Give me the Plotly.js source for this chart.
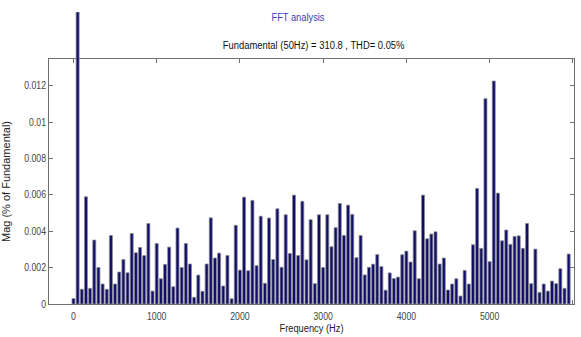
<!DOCTYPE html>
<html>
<head>
<meta charset="utf-8">
<script src="https://cdn.plot.ly/plotly-3.0.1.min.js"></script>
<style>html,body{margin:0;padding:0;background:#fff;}#chart{width:581px;height:337px;}</style>
</head>
<body>
<div id="chart"></div>
<script>
// Harmonic frequencies (Hz), excluding the fundamental
const freqHz = [0,100,150,200,250,300,350,400,450,500,550,600,650,700,750,800,850,900,950,
  1000,1050,1100,1150,1200,1250,1300,1350,1400,1450,1500,1550,1600,1650,1700,1750,1800,1850,1900,1950,
  2000,2050,2100,2150,2200,2250,2300,2350,2400,2450,2500,2550,2600,2650,2700,2750,2800,2850,2900,2950,
  3000,3050,3100,3150,3200,3250,3300,3350,3400,3450,3500,3550,3600,3650,3700,3750,3800,3850,3900,3950,
  4000,4050,4100,4150,4200,4250,4300,4350,4400,4450,4500,4550,4600,4650,4700,4750,4800,4850,4900,4950,
  5000,5050,5100,5150,5200,5250,5300,5350,5400,5450,5500,5550,5600,5650,5700,5750,5800,5850,5900,5950];
// Magnitudes (% of fundamental)
const magPct = [0.0003,0.00081,0.0059,0.00086,0.00352,0.00201,0.0011,0.00081,0.00377,0.0011,0.00176,0.00245,0.00172,0.00388,0.00282,0.00311,0.00266,0.00443,0.00071,
  0.00333,0.00139,0.00218,0.00313,0.00095,0.00418,0.00201,0.00333,0.0022,0.00037,0.00159,0.0007,0.0022,0.00474,0.00253,0.0028,0.00099,0.00267,0.00029,0.00433,
  0.00186,0.00588,0.00183,0.0057,0.00211,0.00483,0.00114,0.00473,0.00245,0.00524,0.00202,0.00491,0.00278,0.00599,0.00267,0.00565,0.00243,0.00464,0.00112,0.00491,
  0.00201,0.00491,0.00315,0.0042,0.00553,0.00377,0.00544,0.00493,0.00255,0.00377,0.0016,0.00202,0.00219,0.00272,0.00206,0.00076,0.00171,0.0014,0.00148,0.00271,
  0.00291,0.00231,0.00403,0.00139,0.00599,0.00359,0.00385,0.00397,0.0022,0.00253,0.00077,0.0011,0.00139,0.00044,0.00185,0.0011,0.00326,0.00636,0.00306,0.0113,
  0.00233,0.01227,0.0061,0.00348,0.00407,0.00328,0.00372,0.00375,0.00306,0.00443,0.00112,0.00302,0.00064,0.0011,0.00071,0.00126,0.00112,0.00194,0.00086,0.00275];
// Fundamental component (off-scale)
const fundHz = [50];
const fundPct = [100];

const xTickVals = [0,1000,2000,3000,4000,5000,6000];
const xTickText = ['0','1000','2000','3000','4000','5000','6000'];
const yTickVals = [0,0.002,0.004,0.006,0.008,0.01,0.012];
const yTickText = ['0','0.002','0.004','0.006','0.008','0.01','0.012'];

const FONT = 'Liberation Sans Narrow, Arial Narrow, Liberation Sans, Arial, sans-serif';
const barColor = '#0e0e6a';
const barEdge = '#8c8c94';

const traces = [
  {type:'bar', x:freqHz, y:magPct, width:36, xaxis:'x', yaxis:'y',
   marker:{color:barColor, line:{color:barEdge, width:0.8}}, hoverinfo:'x+y'},
  {type:'bar', x:fundHz, y:fundPct, width:36, xaxis:'x', yaxis:'y2',
   marker:{color:barColor, line:{color:barEdge, width:0.8}}, hoverinfo:'x'}
];

const mainTop = (304 - 59) / 292;

const layout = {
  width:581, height:337,
  margin:{l:49, r:7, t:12, b:33},
  paper_bgcolor:'#ffffff', plot_bgcolor:'rgba(0,0,0,0)',
  showlegend:false, barmode:'overlay',
  font:{family:FONT, size:10, color:'#333'},
  title:{text:'FFT analysis', font:{family:FONT, size:11, color:'#3a3ac4'},
         x:298/581, xref:'container', xanchor:'center', y:1-17/337, yref:'container', yanchor:'middle'},
  xaxis:{domain:[0,1], anchor:'y', range:[-294, 6014], showgrid:false, zeroline:false,
         showline:true, linecolor:'#707070', linewidth:1, mirror:'ticks',
         ticks:'inside', ticklen:4, tickcolor:'#707070', tickwidth:1, ticklabelstandoff:3,
         tickvals:xTickVals, ticktext:xTickText, tickfont:{family:FONT, size:10, color:'#444'},
         title:{text:'Frequency (Hz)', font:{family:FONT, size:10, color:'#222'}, standoff:3},
         layer:'below traces'},
  yaxis:{domain:[0, mainTop], anchor:'x', range:[0, 0.01348], showgrid:false, zeroline:false,
         showline:true, linecolor:'#707070', linewidth:1, mirror:'ticks',
         ticks:'inside', ticklen:4, tickcolor:'#707070', tickwidth:1,
         tickvals:yTickVals, ticktext:yTickText, tickfont:{family:FONT, size:10, color:'#444'},
         title:{text:'Mag (% of Fundamental)', font:{family:FONT, size:11, color:'#222'}, standoff:8},
         layer:'below traces'},
  yaxis2:{domain:[0,1], anchor:'x', range:[0,100], visible:false, showgrid:false, zeroline:false},
  annotations:[
    {text:'Fundamental (50Hz) = 310.8 , THD= 0.05%', xref:'paper', yref:'paper',
     x:(313-49)/525, y:(304-45)/292, xanchor:'center', yanchor:'middle', showarrow:false,
     font:{family:FONT, size:10, color:'#111'}}
  ]
};

// Horizontal text in the reference is a condensed face; squeeze glyph widths to match.
function condense(gd) {
  const rules = [
    ['.xtick text', 0.87], ['.ytick text', 0.87], ['.gtitle', 53],
    ['.annotation-text', 0.94], ['.g-xtitle text', 0.93]
  ];
  rules.forEach(([sel, f]) => {
    gd.querySelectorAll(sel).forEach(el => {
      const len = el.getComputedTextLength();
      if (len > 0) {
        const target = f > 2 ? f : len * f;
        el.setAttribute('textLength', target.toFixed(2));
        el.setAttribute('lengthAdjust', 'spacingAndGlyphs');
      }
    });
  });
}

Plotly.newPlot('chart', traces, layout, {displayModeBar:false, staticPlot:true})
  .then(gd => condense(gd));
</script>
</body>
</html>
